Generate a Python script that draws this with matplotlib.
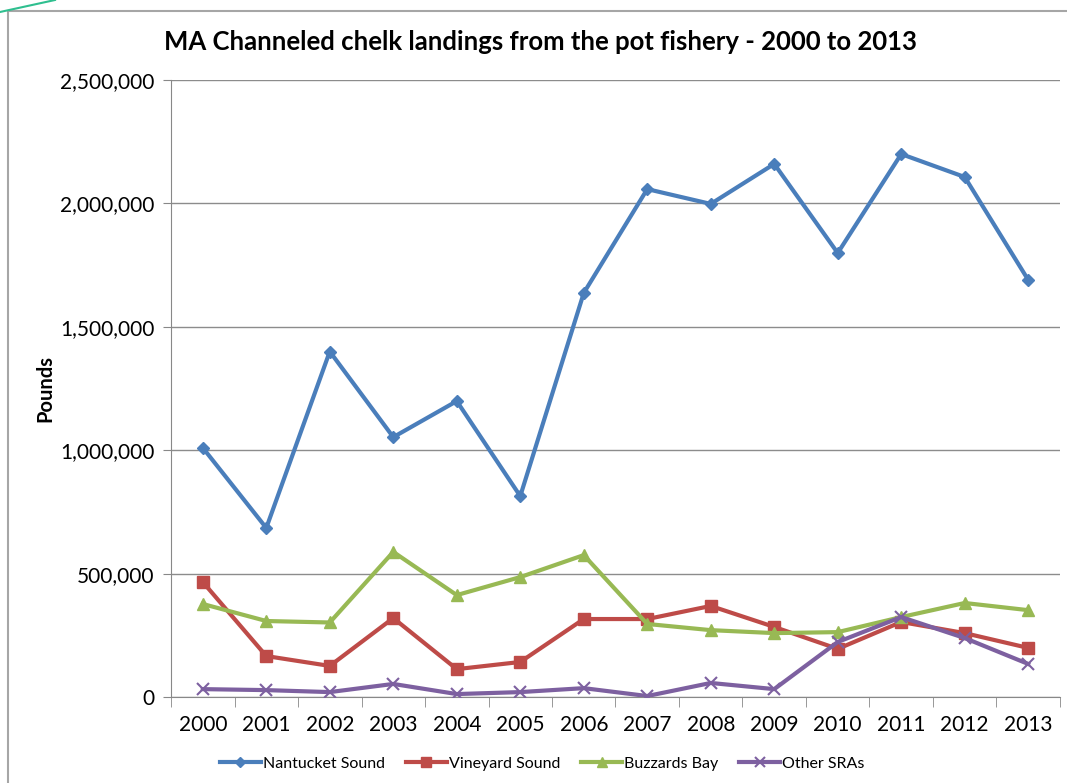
import numpy as np
import matplotlib.pyplot as plt
from matplotlib.lines import Line2D
from matplotlib.patches import Rectangle

plt.rcParams['font.family'] = ['Lato', 'DejaVu Sans']

# ===== Data =====
years = [str(y) for y in range(2000, 2014)]
nantucket = [1010000, 685000, 1400000, 1053000, 1199000, 814000, 1637000,
             2058000, 1998000, 2160000, 1799000, 2200000, 2107000, 1690000]
vineyard = [466000, 166000, 126000, 320000, 113000, 142000, 316000,
            316000, 369000, 284000, 195000, 304000, 259000, 199000]
buzzards = [377000, 308000, 302000, 588000, 413000, 486000, 575000,
            296000, 271000, 259000, 263000, 324000, 381000, 352000]
other = [32000, 28000, 20000, 53000, 12000, 20000, 36000,
         4000, 57000, 32000, 223000, 324000, 239000, 134000]

series = [
    ('Nantucket Sound', nantucket, '#4A7EBB', 'D', 6),
    ('Vineyard Sound', vineyard, '#BE4B48', 's', 8),
    ('Buzzards Bay', buzzards, '#98B954', '^', 8),
    ('Other SRAs', other, '#7D60A0', 'x', 8),
]

fig = plt.figure(figsize=(10.67, 7.83), dpi=100)
ax = fig.add_axes([0.1603, 0.1098, 0.8331, 0.788])

x = np.arange(len(years))
for name, vals, col, mk, ms in series:
    ax.plot(x, vals, color=col, lw=3, marker=mk, markersize=ms,
            markeredgewidth=1.5 if mk == 'x' else 1, label=name, zorder=3)

ax.set_xlim(-0.5, len(years) - 0.5)
ax.set_ylim(0, 2500000)
ax.set_yticks(np.arange(0, 2500001, 500000))
ax.set_yticklabels([f'{v:,}' for v in range(0, 2500001, 500000)], fontsize=15)
ax.set_xticks(x)
ax.set_xticklabels(years, fontsize=15)
ax.set_xticks(np.arange(-0.5, len(years), 1), minor=True)
ax.tick_params(axis='x', which='major', length=0, pad=13)
ax.tick_params(axis='x', which='minor', length=7, color='#888888')
ax.tick_params(axis='y', length=6, color='#888888', pad=6)
ax.grid(axis='y', color='#8c8c8c', lw=1)
ax.set_axisbelow(True)
for s in ['top', 'right']:
    ax.spines[s].set_visible(False)
for s in ['left', 'bottom']:
    ax.spines[s].set_color('#888888')

ax.set_ylabel('Pounds', fontsize=14.5, fontweight='bold', labelpad=3)
fig.text(0.507, 0.946, 'MA Channeled chelk landings from the pot fishery - 2000 to 2013',
         ha='center', va='center', fontsize=18.5, fontweight='bold')

handles = [Line2D([], [], color=c, lw=3, marker=m, markersize=ms * 0.9,
                  markeredgewidth=1.5 if m == 'x' else 1)
           for _, _, c, m, ms in series]
fig.legend(handles, [s[0] for s in series], loc='center', bbox_to_anchor=(0.508, 0.025),
           ncol=4, frameon=False, fontsize=11.5, handlelength=2.6,
           handletextpad=0.1, columnspacing=1.3)

# outer chart frame
fig.patches.append(Rectangle((8 / 1067, -0.1), 1.2, 1 - 11 / 783 + 0.1,
                             transform=fig.transFigure, fill=False,
                             edgecolor='#a6a6a6', lw=1.5))
fig.add_artist(Line2D([0, 55 / 1067], [1 - 12 / 783, 1.0], color='#2fbf8f', lw=1.5,
                      transform=fig.transFigure))

fig.savefig('out.png', dpi=100)
